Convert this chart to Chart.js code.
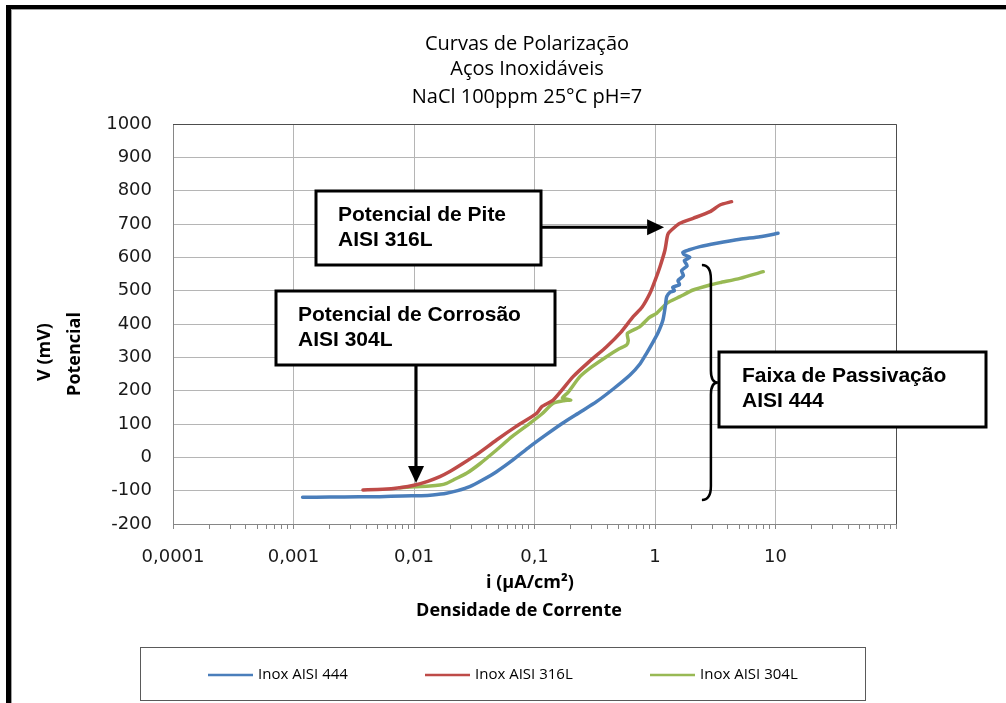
<!DOCTYPE html>
<html>
<head>
<meta charset="utf-8">
<title>Curvas de Polarização</title>
<script src="https://cdn.jsdelivr.net/npm/chart.js@4.4.1/dist/chart.umd.min.js"></script>
<style>
  html, body { margin: 0; padding: 0; background: #fff; }
  #wrap { width: 1006px; height: 703px; }
</style>
</head>
<body>
<div id="wrap"><canvas id="chart" width="1006" height="703"></canvas></div>
<script>
// Inox AISI 444 (azul) - i em µA/cm², V em mV
const i444 = [0.00119, 0.002, 0.0035, 0.0052, 0.008, 0.0115, 0.0143, 0.0186, 0.023, 0.029, 0.037, 0.0484, 0.065, 0.0914, 0.125, 0.172, 0.24, 0.327, 0.45, 0.62, 0.75, 0.851, 0.96, 1.057, 1.164, 1.22, 1.25, 1.33, 1.45, 1.40, 1.6, 1.55, 1.72, 1.66, 1.85, 1.75, 1.95, 1.75, 1.70, 1.9, 2.36, 3.25, 5.07, 7.43, 10.5];
const v444 = [-120, -119, -118.5, -118, -116, -115, -113, -108, -100, -88, -68, -43, -10, 32, 68, 103, 136, 167, 205, 247, 280, 312, 345, 373, 412, 455, 482, 495, 500, 510, 518, 530, 545, 560, 575, 590, 600, 608, 615, 622, 632, 642, 654, 662, 672];

// Inox AISI 316L (vermelho)
const i316 = [0.00377, 0.0055, 0.0076, 0.0102, 0.013, 0.0164, 0.02, 0.0256, 0.033, 0.0484, 0.07, 0.104, 0.115, 0.143, 0.209, 0.28, 0.396, 0.52, 0.659, 0.78, 0.908, 1.0, 1.10, 1.21, 1.26, 1.29, 1.37, 1.61, 2.07, 2.86, 3.46, 4.32];
const v316 = [-98, -96, -91, -83, -72, -58, -42, -18, 8, 52, 92, 132, 152, 172, 242, 285, 332, 375, 422, 450, 492, 530, 572, 622, 660, 672, 682, 702, 717, 737, 757, 767];

// Inox AISI 304L (verde)
const i304 = [0.0076, 0.01, 0.0135, 0.0164, 0.0186, 0.022, 0.0273, 0.035, 0.0484, 0.065, 0.0914, 0.115, 0.143, 0.175, 0.2, 0.17, 0.19, 0.238, 0.3, 0.396, 0.5, 0.581, 0.6, 0.59, 0.75, 0.9, 1.03, 1.25, 1.61, 2.07, 2.86, 3.46, 5.07, 7.91];
const v304 = [-91, -88, -86, -83, -78, -65, -48, -20, 22, 62, 102, 130, 162, 170, 172, 178, 195, 242, 272, 302, 325, 337, 350, 372, 392, 420, 432, 462, 482, 502, 517, 524, 537, 557];

const seriesNames = ['Inox AISI 444', 'Inox AISI 316L', 'Inox AISI 304L'];
const seriesColors = ['#4a7ebb', '#be4b48', '#98b954'];

const titleLines = ['Curvas de Polarização', 'Aços Inoxidáveis', 'NaCl 100ppm 25°C pH=7'];
const xTitleLines = ['i (µA/cm²)', 'Densidade de Corrente'];
const yTitleLines = ['V (mV)', 'Potencial'];

const xDecades = [0.0001, 0.001, 0.01, 0.1, 1, 10, 100];
const xTickLabels = ['0,0001', '0,001', '0,01', '0,1', '1', '10', ''];

// anotações (pontos apontados em unidades do gráfico)
const piteTip = { x: 1.19, y: 690 };
const corrosaoTip = { x: 0.0104, y: -77 };
const passivacao = { x: 2.91, top: 577, bottom: -128 };

function pairs(xs, ys) {
    return xs.map((x, k) => ({ x: x, y: ys[k] }));
}

function isDecade(v) {
    const l = Math.log10(v);
    return Math.abs(l - Math.round(l)) < 1e-9;
}

function drawBox(ctx, x, y, w, h, lines, tx) {
    ctx.fillStyle = '#fff';
    ctx.fillRect(x, y, w, h);
    ctx.lineWidth = 3;
    ctx.strokeStyle = '#000';
    ctx.strokeRect(x, y, w, h);
    ctx.fillStyle = '#000';
    ctx.font = 'bold 21px "Liberation Sans", Arial, sans-serif';
    ctx.textAlign = 'left';
    ctx.textBaseline = 'middle';
    lines.forEach((t, k) => ctx.fillText(t, tx, y + 24 + k * 25));
}

function drawArrow(ctx, x1, y1, x2, y2) {
    const a = Math.atan2(y2 - y1, x2 - x1);
    const hl = 17, hw = 8;
    const bx = x2 - hl * Math.cos(a), by = y2 - hl * Math.sin(a);
    ctx.strokeStyle = '#000';
    ctx.lineWidth = 3;
    ctx.beginPath();
    ctx.moveTo(x1, y1);
    ctx.lineTo(bx, by);
    ctx.stroke();
    ctx.fillStyle = '#000';
    ctx.beginPath();
    ctx.moveTo(x2, y2);
    ctx.lineTo(bx + hw * Math.sin(a), by - hw * Math.cos(a));
    ctx.lineTo(bx - hw * Math.sin(a), by + hw * Math.cos(a));
    ctx.closePath();
    ctx.fill();
}

function drawBrace(ctx, x, yTop, yBot) {
    const yMid = (yTop + yBot) / 2;
    ctx.strokeStyle = '#000';
    ctx.lineWidth = 2.5;
    ctx.beginPath();
    ctx.moveTo(x - 9, yTop);
    ctx.quadraticCurveTo(x, yTop, x, yTop + 14);
    ctx.lineTo(x, yMid - 12);
    ctx.quadraticCurveTo(x, yMid, x + 7, yMid);
    ctx.quadraticCurveTo(x, yMid, x, yMid + 12);
    ctx.lineTo(x, yBot - 14);
    ctx.quadraticCurveTo(x, yBot, x - 9, yBot);
    ctx.stroke();
}

const overlay = {
    id: 'overlay',
    beforeDraw(chart) {
        const ctx = chart.ctx;
        ctx.save();
        ctx.fillStyle = '#fff';
        ctx.fillRect(0, 0, chart.width, chart.height);
        ctx.restore();
    },
    afterDraw(chart) {
        const ctx = chart.ctx;
        const area = chart.chartArea;
        const xs = chart.scales.x, ys = chart.scales.y;
        ctx.save();

        // moldura do gráfico (topo e direita)
        ctx.strokeStyle = '#4d4d4d';
        ctx.lineWidth = 1;
        ctx.beginPath();
        ctx.moveTo(area.left, Math.round(area.top) + 0.5);
        ctx.lineTo(Math.round(area.right) + 0.5, Math.round(area.top) + 0.5);
        ctx.lineTo(Math.round(area.right) + 0.5, area.bottom);
        ctx.stroke();

        // título
        ctx.fillStyle = '#000';
        ctx.font = '20px "Open Sans", sans-serif';
        ctx.textAlign = 'center';
        ctx.textBaseline = 'middle';
        ctx.fillText(titleLines[0], 527, 44);
        ctx.fillText(titleLines[1], 527, 69);
        ctx.fillText(titleLines[2], 527, 97);

        // títulos dos eixos
        ctx.font = 'bold 18px "Open Sans", sans-serif';
        ctx.fillText(xTitleLines[0], 530, 583);
        ctx.fillText(xTitleLines[1], 519, 611);
        ctx.save();
        ctx.translate(45, 352);
        ctx.rotate(-Math.PI / 2);
        ctx.fillText(yTitleLines[0], 0, 0);
        ctx.restore();
        ctx.save();
        ctx.translate(75, 354);
        ctx.rotate(-Math.PI / 2);
        ctx.fillText(yTitleLines[1], 0, 0);
        ctx.restore();

        // anotações
        const px = xs.getPixelForValue(piteTip.x), py = ys.getPixelForValue(piteTip.y);
        drawArrow(ctx, 541, py, px, py);
        drawBox(ctx, 316, 191, 225, 74, ['Potencial de Pite', 'AISI 316L'], 338);

        const cx = xs.getPixelForValue(corrosaoTip.x), cy = ys.getPixelForValue(corrosaoTip.y);
        drawArrow(ctx, cx, 365, cx, cy);
        drawBox(ctx, 276, 291, 279, 74, ['Potencial de Corrosão', 'AISI 304L'], 298);

        drawBrace(ctx, xs.getPixelForValue(passivacao.x), ys.getPixelForValue(passivacao.top), ys.getPixelForValue(passivacao.bottom));
        drawBox(ctx, 719, 352, 267, 75, ['Faixa de Passivação', 'AISI 444'], 742);

        // legenda
        ctx.strokeStyle = '#5a5a5a';
        ctx.lineWidth = 1;
        ctx.strokeRect(140.5, 647.5, 725, 53);
        const legendX = [208, 425, 650];
        ctx.font = '15px "Open Sans", sans-serif';
        ctx.textAlign = 'left';
        chart.data.datasets.forEach((ds, k) => {
            ctx.strokeStyle = ds.borderColor;
            ctx.lineWidth = 2.5;
            ctx.beginPath();
            ctx.moveTo(legendX[k], 675);
            ctx.lineTo(legendX[k] + 45, 675);
            ctx.stroke();
            ctx.fillStyle = '#000';
            ctx.fillText(ds.label, legendX[k] + 50, 675);
        });

        // borda preta da imagem
        ctx.fillStyle = '#000';
        ctx.fillRect(6, 5, 1000, 4);
        ctx.fillRect(6, 5, 5, 698);
        ctx.fillStyle = '#a0a0a0';
        ctx.fillRect(11, 9, 995, 1);
        ctx.fillRect(11, 9, 1, 694);

        ctx.restore();
    }
};

const ctx = document.getElementById('chart').getContext('2d');
new Chart(ctx, {
    type: 'line',
    data: {
        datasets: [
            { label: seriesNames[0], data: pairs(i444, v444), borderColor: seriesColors[0] },
            { label: seriesNames[1], data: pairs(i316, v316), borderColor: seriesColors[1] },
            { label: seriesNames[2], data: pairs(i304, v304), borderColor: seriesColors[2] }
        ]
    },
    options: {
        responsive: false,
        maintainAspectRatio: false,
        animation: false,
        devicePixelRatio: 1,
        layout: { padding: { left: 0, top: 124, right: 110, bottom: 119 } },
        elements: {
            line: { borderWidth: 3.5, tension: 0.2, fill: false, borderCapStyle: 'round', borderJoinStyle: 'round' },
            point: { radius: 0, hoverRadius: 0 }
        },
        plugins: {
            legend: { display: false },
            title: { display: false },
            tooltip: { enabled: false }
        },
        scales: {
            x: {
                type: 'logarithmic',
                min: 0.0001,
                max: 100,
                afterBuildTicks(scale) {
                    const ticks = [];
                    for (let e = -4; e <= 1; e++) {
                        for (let m = 1; m <= 9; m++) {
                            ticks.push({ value: Number((m * Math.pow(10, e)).toPrecision(6)) });
                        }
                    }
                    ticks.push({ value: 100 });
                    scale.ticks = ticks;
                },
                afterFit(scale) { scale.height = 60; },
                grid: {
                    color: c => (c.tick && isDecade(c.tick.value)) ? '#b5b5b5' : 'rgba(0,0,0,0)',
                    tickColor: '#868686',
                    tickLength: 5,
                    drawTicks: true
                },
                border: { color: '#868686', width: 1 },
                ticks: {
                    autoSkip: false,
                    maxRotation: 0,
                    padding: 18,
                    color: '#1a1a1a',
                    font: { family: '"DejaVu Sans", sans-serif', size: 18 },
                    callback: function(value) {
                        const k = xDecades.findIndex(d => Math.abs(d - value) / d < 1e-6);
                        return k >= 0 ? xTickLabels[k] : '';
                    }
                }
            },
            y: {
                type: 'linear',
                min: -200,
                max: 1000,
                afterFit(scale) { scale.width = 173; },
                grid: { color: '#b5b5b5', drawTicks: false },
                border: { color: '#868686', width: 1 },
                ticks: {
                    stepSize: 100,
                    padding: 21,
                    color: '#1a1a1a',
                    font: { family: '"DejaVu Sans", sans-serif', size: 18 },
                    callback: value => String(value)
                }
            }
        }
    },
    plugins: [overlay]
});
</script>
</body>
</html>
